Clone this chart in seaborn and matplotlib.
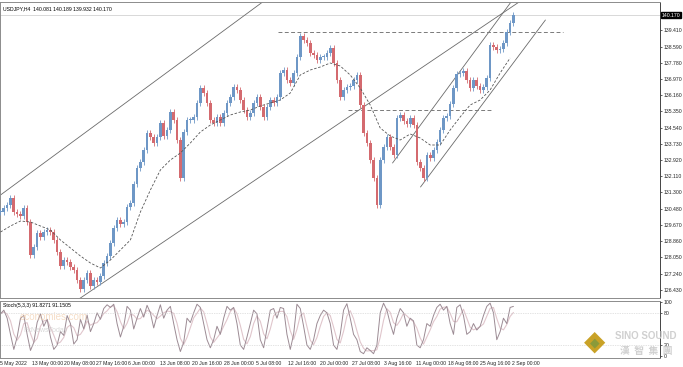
import numpy as np
import pandas as pd
import matplotlib
matplotlib.use("Agg")
import matplotlib.pyplot as plt
import seaborn as sns

# USDJPY H4 closes (one value every ~3 bars)
closes = [
    130.32, 130.52, 130.67, 131.02, 130.32, 130.22, 130.12, 130.52, 129.82, 128.17,
    128.57, 129.27, 129.07, 129.32, 129.42, 129.32, 128.92, 128.32, 127.62, 127.92,
    127.82, 127.57, 127.42, 126.92, 126.47, 126.92, 127.27, 126.62, 126.92, 126.82,
    127.12, 127.77, 128.12, 128.77, 129.52, 129.92, 129.72, 129.82, 130.57, 130.77,
    131.72, 132.52, 132.82, 133.42, 134.27, 134.07, 133.77, 134.07, 134.77, 134.12,
    134.42, 135.32, 134.92, 133.92, 132.02, 134.32, 134.92, 134.92, 135.07, 135.77,
    136.52, 136.27, 135.77, 134.92, 134.77, 135.07, 134.77, 135.27, 135.77, 136.07,
    136.57, 136.42, 135.92, 135.42, 135.07, 135.27, 135.77, 136.07, 135.57, 135.07,
    135.57, 135.92, 135.77, 136.07, 137.27, 137.42, 136.92, 136.77, 137.27, 138.07,
    139.12, 138.92, 138.77, 138.27, 138.17, 137.92, 138.07, 138.07, 138.27, 138.52,
    137.77, 136.92, 136.07, 136.42, 136.57, 136.62, 136.92, 137.17, 135.67, 134.27,
    133.77, 132.92, 132.02, 130.67, 132.92, 133.57, 134.07, 133.57, 133.17, 135.02,
    135.17, 134.87, 134.72, 135.02, 134.67, 132.82, 132.52, 132.02, 133.17, 133.02,
    133.42, 133.82, 134.42, 135.02, 135.12, 135.72, 136.52, 137.22, 137.27, 137.37,
    136.92, 136.52, 136.92, 136.62, 136.42, 136.57, 137.02, 138.67, 138.57, 138.42,
    138.47, 138.77, 139.32, 139.77, 140.17,
]

# dashed moving average, one value every 3 candles
ma_values = [
    129.32, 129.62, 129.87, 129.82, 129.62, 129.42, 128.92, 128.52, 128.12, 127.77,
    127.52, 127.92, 128.42, 128.92, 130.32, 131.42, 132.42, 132.92, 133.27, 133.77,
    134.32, 134.67, 134.92, 135.17, 135.32, 135.42, 135.62, 135.77, 135.92, 136.27,
    137.17, 137.42, 137.57, 137.77, 137.62, 137.17, 136.52, 135.67, 134.52, 134.12,
    133.92, 134.22, 134.02, 133.67, 133.67, 134.42, 135.07, 135.67, 135.92, 136.42,
    137.27, 138.02,
]

# Stoch(5,3,3) main line, same spacing as the candles
stoch_main = [
    78, 85, 70, 40, 12, 35, 70, 75, 40, 10, 25, 62, 78, 55, 68, 35, 12, 20, 45, 38,
    75, 60, 22, 30, 68, 50, 76, 45, 60, 80, 68, 88, 95, 90, 96, 60, 35, 55, 92, 85,
    50, 70, 88, 72, 94, 80, 52, 75, 95, 70, 85, 92, 60, 30, 8, 25, 70, 62, 80, 96,
    90, 60, 30, 15, 30, 55, 40, 70, 92, 85, 90, 60, 20, 12, 35, 60, 85, 78, 30, 15,
    50, 85, 88, 70, 90, 88, 40, 12, 40, 96, 88, 55, 20, 12, 30, 60, 75, 85, 80, 60,
    20, 12, 40, 85, 97, 70, 40, 30, 8, 4, 15, 10, 4, 20, 80, 98, 85, 60, 40, 70,
    88, 80, 55, 70, 65, 20, 15, 30, 60, 55, 75, 90, 96, 85, 92, 60, 40, 90, 95, 75,
    40, 45, 60, 48, 55, 75, 92, 98, 80, 30, 45, 70, 60, 90, 92,
]

# trend lines: (candle index, price) anchors
upper_channel = ([0.0, 84.0], [131.17, 141.47])
lower_channel = ([23.1, 162.1], [125.92, 141.54])
wedge_upper = ([117.7, 156.1], [132.77, 141.46])
wedge_lower = ([126.1, 163.6], [131.57, 139.92])
resistance_high = ([83.2, 169.0], [139.32, 139.32])
resistance_mid = ([104.2, 148.0], [135.42, 135.42])

price_ticks = [139.410, 138.590, 137.780, 136.970, 136.160, 135.350, 134.540, 133.730,
               132.920, 132.110, 131.300, 130.480, 129.670, 128.860, 128.050, 127.240,
               126.430]
stoch_ticks = [100, 80, 20, 0]
date_labels = ["5 May 2022", "13 May 00:00", "20 May 08:00", "27 May 16:00",
               "6 Jun 00:00", "13 Jun 08:00", "20 Jun 16:00", "28 Jun 00:00",
               "5 Jul 08:00", "12 Jul 16:00", "20 Jul 00:00", "27 Jul 08:00",
               "3 Aug 16:00", "11 Aug 00:00", "18 Aug 08:00", "25 Aug 16:00",
               "2 Sep 00:00"]
last_price = 140.170
header = "USDJPY,H4  140.081 140.189 139.932 140.170"
stoch_header = "Stoch(5,3,3) 91.8271 91.1505"

UP = "#6e97c6"
DOWN = "#d46a6f"
FRAME = "#8c8c8c"
WICK = 0.13
FS = 3.7

sns.set_theme(style="white")
plt.rcParams["font.family"] = ["Liberation Sans", "DejaVu Sans"]

fig = plt.figure(figsize=(6.83, 3.67), dpi=100)
W, H = 683, 367
ax = fig.add_axes([0, 1 - 298 / H, 660 / W, 296 / H])
ax2 = fig.add_axes([0, 1 - 358 / H, 660 / W, 57 / H])

# candles
c = np.array(closes)
o = np.concatenate([[c[0]], c[:-1]])
x = np.arange(len(c))
up = c >= o
top = np.maximum(o, c)
bot = np.minimum(o, c)
ax.vlines(x, bot - WICK, top + WICK, colors=np.where(up, UP, DOWN), lw=0.6, zorder=3)
ax.bar(x, np.maximum(top - bot, 0.04), bottom=bot, width=0.8,
       color=np.where(up, UP, DOWN), linewidth=0, zorder=4)

ma = pd.DataFrame({"x": np.arange(len(ma_values)) * 3.0, "ma": ma_values})
sns.lineplot(data=ma, x="x", y="ma", ax=ax, color="#555555", lw=0.6,
             linestyle=(0, (3, 2)), zorder=5)

for xs, ys in [upper_channel, lower_channel, wedge_upper, wedge_lower]:
    ax.plot(xs, ys, color="#6a6a6a", lw=0.6, zorder=2)
for xs, ys in [resistance_high, resistance_mid]:
    ax.plot(xs, ys, color="#7a7a7a", lw=0.7, linestyle=(0, (4, 2.5)), zorder=2)
ax.axhline(last_price, color="#d8d8d8", lw=0.7, zorder=1)

ax.set_xlim(-0.15, 198.0)
ax.set_ylim(126.02, 140.82)
ax.yaxis.tick_right()
ax.set_yticks(price_ticks)
ax.set_yticklabels([f"{v:.3f}" for v in price_ticks])
ax.tick_params(axis="y", labelsize=FS, length=1.5, width=0.5, pad=1.2, colors="#222222")
ax.set_xticks([])
ax.set_xlabel("")
ax.set_ylabel("")
ax.text(1.002, last_price, f"{last_price:.3f}", transform=ax.get_yaxis_transform(),
        fontsize=FS, color="white", va="center", ha="left",
        bbox=dict(boxstyle="square,pad=0.15", fc="black", ec="black"))
ax.text(0.004, 0.985, header, transform=ax.transAxes, fontsize=FS,
        va="top", ha="left", color="black")

# stochastic
st = pd.DataFrame({"x": x, "main": stoch_main})
st["signal"] = st["main"].rolling(3, min_periods=1).mean()
sns.lineplot(data=st, x="x", y="signal", ax=ax2, color="#e0c6cc", lw=0.8)
sns.lineplot(data=st, x="x", y="main", ax=ax2, color="#9c8b94", lw=0.7)
for lvl in (80, 20):
    ax2.axhline(lvl, color="#c8c8c8", lw=0.5, linestyle=(0, (1, 1.5)))
ax2.set_xlim(-0.15, 198.0)
ax2.set_ylim(-4, 102)
ax2.yaxis.tick_right()
ax2.set_yticks(stoch_ticks)
ax2.tick_params(axis="y", labelsize=FS, length=1.5, width=0.5, pad=1.2, colors="#222222")
ax2.set_xticks(np.arange(len(date_labels)) * 32 / (513 / 154))
ax2.set_xticklabels(date_labels, ha="left")
ax2.tick_params(axis="x", labelsize=FS, length=1.5, width=0.5, pad=1.0, colors="#222222")
ax2.set_xlabel("")
ax2.set_ylabel("")
ax2.text(0.004, 0.97, stoch_header, transform=ax2.transAxes, fontsize=FS,
         va="top", ha="left", color="black")
ax2.text(0.03, 0.8, "economies.com", transform=ax2.transAxes, fontsize=7,
         color="#f2cfae", alpha=0.7, va="top")
ax2.text(0.035, 0.55, "FxNewsToday", transform=ax2.transAxes, fontsize=5,
         color="#c8c8c8", alpha=0.7, va="top")

for a in (ax, ax2):
    for s in a.spines.values():
        s.set_color(FRAME)
        s.set_linewidth(0.7)
    a.spines["right"].set_color("#444444")

# logo
fig.text(595 / W, 1 - 343 / H, "\u25c6", fontsize=20, color="#c9a227",
         ha="center", va="center")
fig.text(595 / W, 1 - 343 / H, "\u25c6", fontsize=9, color="#8a9a3a",
         ha="center", va="center")
fig.text(646 / W, 1 - 336 / H, "SINO SOUND", fontsize=7, weight="bold",
         color="#d0d0d0", ha="center", va="center")
fig.text(646 / W, 1 - 351 / H, "漢  智  集  團", fontsize=7, weight="bold",
         color="#d0d0d0", ha="center", va="center",
         family=["Noto Sans CJK TC", "DejaVu Sans"])

fig.savefig("out.png", dpi=100)
plt.close(fig)
